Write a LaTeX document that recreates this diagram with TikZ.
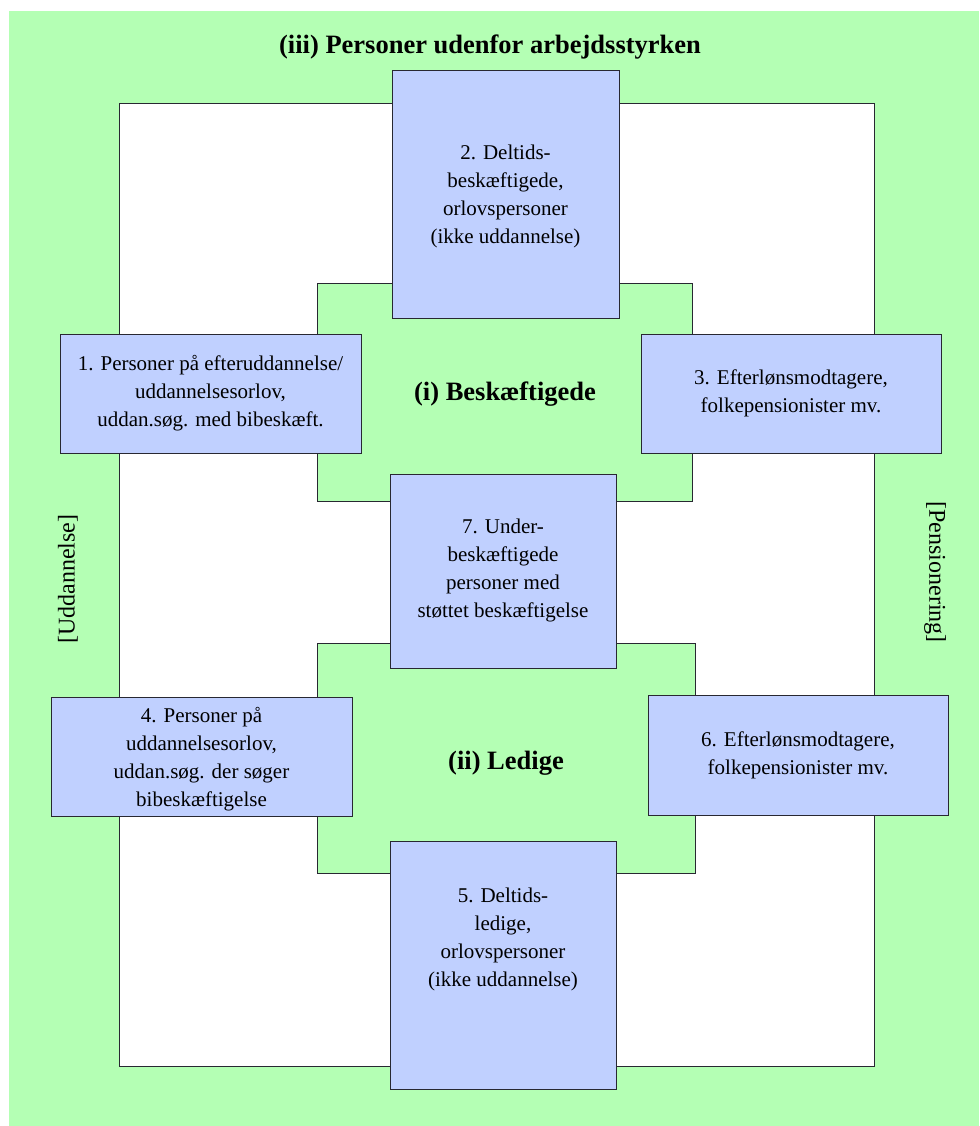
\documentclass[tikz,border=0pt]{standalone}
\usepackage{fontspec}
\setmainfont{Liberation Serif}
\definecolor{bggreen}{RGB}{180,255,180}
\definecolor{boxblue}{RGB}{192,208,255}
\definecolor{edge}{RGB}{40,40,50}
\begin{document}
\begin{tikzpicture}[x=1pt,y=-1pt,
  area/.style={fill=bggreen,draw=edge,line width=1pt},
  whitearea/.style={fill=white,draw=edge,line width=1pt},
  cat/.style={fill=boxblue,draw=edge,line width=1pt},
  boxtext/.style={font=\fontsize{21}{28}\selectfont,align=center,inner sep=0pt},
  headtext/.style={font=\fontsize{26.5}{30}\selectfont\bfseries,inner sep=0pt},
  sidetext/.style={font=\fontsize{24}{28}\selectfont,inner sep=0pt}]
\useasboundingbox (0,0) rectangle (979,1126);
\fill[white] (0,0) rectangle (979,1126);
% outer area (iii)
\fill[bggreen] (9,11) rectangle (979,1126);
\node[headtext] (title) at (490,47) {(iii) Personer udenfor arbejdsstyrken};
% white frame
\draw[whitearea] (119,104) rectangle (874,1066);
% inner areas
\draw[area] (317,283) rectangle (692,501);
\draw[area] (317,643) rectangle (695,873);
\node[headtext] (emp) at (505,394) {(i) Beskæftigede};
\node[headtext] (unemp) at (506,763) {(ii) Ledige};
% side labels
\node[sidetext,rotate=90] (udd) at (68,579) {[Uddannelse]};
\node[sidetext,rotate=-90] (pens) at (935,572) {[Pensionering]};
% boxes
\draw[cat] (392,71) rectangle (619,318);
\node[boxtext] (b2) at (505.5,196) {2. Deltids-\\beskæftigede,\\orlovspersoner\\(ikke uddannelse)};
\draw[cat] (60,334) rectangle (361,453);
\node[boxtext] (b1) at (210.5,393) {1. Personer på efteruddannelse/\\uddannelsesorlov,\\uddan.søg. med bibeskæft.};
\draw[cat] (641,334) rectangle (941,453);
\node[boxtext] (b3) at (791,393) {3. Efterlønsmodtagere,\\folkepensionister mv.};
\draw[cat] (390,474) rectangle (616,668);
\node[boxtext] (b7) at (503,570) {7. Under-\\beskæftigede\\personer med\\støttet beskæftigelse};
\draw[cat] (51,697) rectangle (352,816);
\node[boxtext] (b4) at (201.5,759) {4. Personer på\\uddannelsesorlov,\\uddan.søg. der søger\\bibeskæftigelse};
\draw[cat] (648,695) rectangle (948,815);
\node[boxtext] (b6) at (798,755) {6. Efterlønsmodtagere,\\folkepensionister mv.};
\draw[cat] (390,841) rectangle (616,1089);
\node[boxtext] (b5) at (503,939) {5. Deltids-\\ledige,\\orlovspersoner\\(ikke uddannelse)};
\end{tikzpicture}
\end{document}
